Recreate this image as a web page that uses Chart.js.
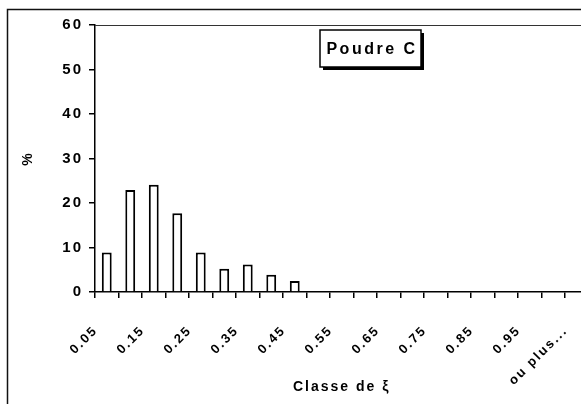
<!DOCTYPE html>
<html>
<head>
<meta charset="utf-8">
<script src="https://cdn.jsdelivr.net/npm/chart.js@4"></script>
<style>
  html, body { margin: 0; padding: 0; background: #fff; overflow: hidden; }
  #wrap { position: relative; width: 592px; height: 404px; }
</style>
</head>
<body>
<div id="wrap"><canvas id="histChart"></canvas></div>
<script>
// classes de xi (bornes) et pourcentages
const classes = ['0.05', '0.1', '0.15', '0.2', '0.25', '0.3', '0.35', '0.4', '0.45', '0.5',
                 '0.55', '0.6', '0.65', '0.7', '0.75', '0.8', '0.85', '0.9', '0.95', '1', 'ou plus...'];
const pourcents = [8.9, 22.9, 24.1, 17.7, 8.9, 5.2, 6.2, 3.9, 2.5, 0,
                   0, 0, 0, 0, 0, 0, 0, 0, 0, 0, 0];
const yTicks = [0, 10, 20, 30, 40, 50, 60];
const serieNom = 'Poudre C';

const fontFamily = '"Liberation Sans", Arial, sans-serif';

// cadre extérieur, bord haut du tracé et étiquette "Poudre C"
const decorPlugin = {
    id: 'decor',
    beforeUpdate(chart) {
        chart.ctx.letterSpacing = '2px';
    },
    beforeDraw(chart) {
        chart.ctx.letterSpacing = '2px';
    },
    afterDraw(chart) {
        const ctx = chart.ctx;
        const area = chart.chartArea;
        ctx.save();
        ctx.strokeStyle = '#111';
        ctx.lineWidth = 1.5;
        ctx.beginPath();
        ctx.moveTo(7.5, chart.height);
        ctx.lineTo(7.5, 9.5);
        ctx.lineTo(chart.width, 9.5);
        ctx.stroke();

        ctx.lineWidth = 1;
        ctx.strokeStyle = '#333';
        ctx.beginPath();
        ctx.moveTo(area.left, area.top + 0.5);
        ctx.lineTo(area.right, area.top + 0.5);
        ctx.stroke();

        // boîte de légende avec ombre
        const bx = area.left + 225, by = area.top + 5, bw = 101, bh = 37;
        ctx.fillStyle = '#000';
        ctx.fillRect(bx + 3, by + 3, bw, bh);
        ctx.fillStyle = '#fff';
        ctx.fillRect(bx, by, bw, bh);
        ctx.lineWidth = 1.5;
        ctx.strokeStyle = '#000';
        ctx.strokeRect(bx, by, bw, bh);
        ctx.fillStyle = '#000';
        ctx.font = 'bold 16px ' + fontFamily;
        ctx.letterSpacing = '2.5px';
        ctx.textAlign = 'center';
        ctx.textBaseline = 'middle';
        ctx.fillText(serieNom, bx + bw / 2 + 1.5, by + bh / 2 + 1);
        ctx.restore();
    }
};

const chart = new Chart(document.getElementById('histChart').getContext('2d'), {
    type: 'bar',
    data: {
        labels: classes,
        datasets: [{
            label: serieNom,
            data: pourcents,
            backgroundColor: '#fff',
            borderColor: '#000',
            borderWidth: 2,
            barPercentage: 0.42,
            categoryPercentage: 1
        }]
    },
    options: {
        responsive: true,
        maintainAspectRatio: false,
        animation: false,
        layout: { padding: { left: 0, right: 3.5, top: 25, bottom: 0 } },
        plugins: {
            legend: { display: false },
            tooltip: { enabled: false }
        },
        scales: {
            x: {
                offset: true,
                grid: {
                    offset: true,
                    drawOnChartArea: false,
                    drawTicks: true,
                    tickLength: 6,
                    color: '#000',
                    lineWidth: 1.5
                },
                border: { display: true, color: '#000', width: 1.5 },
                ticks: {
                    autoSkip: false,
                    maxRotation: 45,
                    minRotation: 45,
                    padding: 25,
                    labelOffset: -11,
                    color: '#000',
                    font: { family: fontFamily, size: 13, weight: 'bold' },
                    callback: (v, i) => (i % 2 === 0 ? classes[i] : '')
                },
                title: {
                    display: true,
                    text: 'Classe de ξ',
                    color: '#000',
                    font: { family: fontFamily, size: 14, weight: 'bold' },
                    padding: { top: 0, bottom: 8 }
                },
                afterFit: (s) => {
                    s.height = 112;
                    s.paddingLeft = 0;
                    s.paddingRight = 0;
                }
            },
            y: {
                min: yTicks[0],
                max: yTicks[yTicks.length - 1],
                afterBuildTicks: (s) => { s.ticks = yTicks.map(v => ({ value: v })); },
                grid: {
                    drawOnChartArea: false,
                    drawTicks: true,
                    tickLength: 6,
                    color: '#000',
                    lineWidth: 1.5
                },
                border: { display: true, color: '#000', width: 1.5 },
                ticks: {
                    padding: 6,
                    color: '#000',
                    font: { family: fontFamily, size: 15, weight: 'bold' }
                },
                title: {
                    display: true,
                    text: '%',
                    color: '#000',
                    font: { family: fontFamily, size: 14, weight: 'bold' },
                    padding: { top: 20, bottom: 0 }
                },
                afterFit: (s) => {
                    s.width = 95;
                    s.paddingTop = 0;
                    s.paddingBottom = 0;
                }
            }
        }
    },
    plugins: [decorPlugin]
});
</script>
</body>
</html>
